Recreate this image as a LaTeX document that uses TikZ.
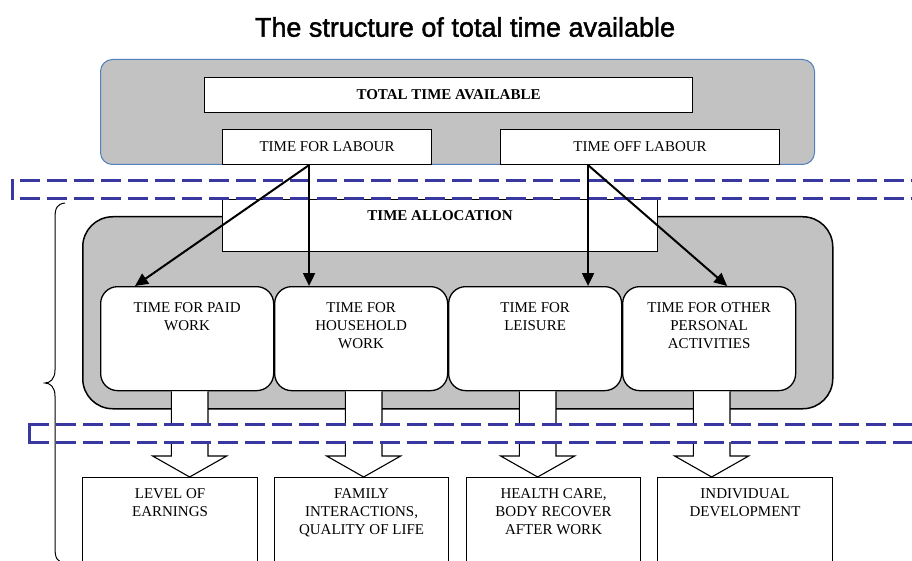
\documentclass[tikz,border=0pt]{standalone}
\usepackage{fontspec}
\setmainfont{Liberation Serif}
\newfontfamily\titlefont[FakeBold=1.6]{Liberation Sans}
\usetikzlibrary{arrows.meta,calc}
\definecolor{boxgray}{RGB}{194,194,194}
\definecolor{dashblue}{RGB}{56,56,160}
\definecolor{edgeblue}{RGB}{79,129,189}
\begin{document}
\begin{tikzpicture}[x=1pt,y=-1pt,
  txt/.style={font=\fontsize{15}{18}\selectfont, align=center, inner sep=0pt},
  boldtxt/.style={font=\fontsize{15}{18}\selectfont\bfseries, align=center, inner sep=0pt},
  sqbox/.style={draw=black, line width=1.1pt, fill=white, anchor=north west, inner sep=0pt},
  rbox/.style={sqbox, rounded corners=17pt, line width=1.3pt},
  topframe/.style={draw=edgeblue, line width=1pt, fill=boxgray, rounded corners=12pt, anchor=north west, inner sep=0pt},
  midframe/.style={draw=black, line width=1.5pt, fill=boxgray, rounded corners=30pt, anchor=north west, inner sep=0pt},
  flow/.style={draw=black, line width=2pt, -{Triangle[length=13pt,width=12pt]}},
  blockarr/.style={draw=black, fill=white, line width=1.1pt, line join=miter},
  dashline/.style={draw=dashblue, line width=3pt, dash pattern=on 20pt off 7pt},
  bandedge/.style={draw=dashblue, line width=3pt},
  bracestyle/.style={draw=black, line width=1pt}
]
\useasboundingbox (0,0) rectangle (912,561);
\clip (0,0) rectangle (912,561);

% lower frame
\node[midframe, minimum width=750pt, minimum height=192pt] (allocframe) at (82,216) {};
\node[sqbox, minimum width=435pt, minimum height=52pt] (alloc) at (222,199) {};
\node[boldtxt, anchor=north] (alloct) at ($(alloc.north)+(0,11.7)$) {TIME ALLOCATION};

% four activity boxes
\node[rbox, minimum width=173pt, minimum height=104pt] (p1) at (100,286) {};
\node[rbox, minimum width=173pt, minimum height=104pt] (p2) at (274,286) {};
\node[rbox, minimum width=173pt, minimum height=104pt] (p3) at (448,286) {};
\node[rbox, minimum width=173pt, minimum height=104pt] (p4) at (622,286) {};
\node[txt, anchor=north] (p1t) at ($(p1.north)+(0,16)$) {TIME FOR PAID\\WORK};
\node[txt, anchor=north] (p2t) at ($(p2.north)+(0,16)$) {TIME FOR\\HOUSEHOLD\\WORK};
\node[txt, anchor=north] (p3t) at ($(p3.north)+(0,16)$) {TIME FOR\\LEISURE};
\node[txt, anchor=north] (p4t) at ($(p4.north)+(0,16)$) {TIME FOR OTHER\\PERSONAL\\ACTIVITIES};

% result boxes
\node[sqbox, minimum width=175pt, minimum height=120pt] (r1) at (82,477) {};
\node[sqbox, minimum width=174pt, minimum height=120pt] (r2) at (274,477) {};
\node[sqbox, minimum width=174pt, minimum height=120pt] (r3) at (466,477) {};
\node[sqbox, minimum width=175pt, minimum height=120pt] (r4) at (657,477) {};
\node[txt, anchor=north] (r1t) at ($(r1.north)+(0,11)$) {LEVEL OF\\EARNINGS};
\node[txt, anchor=north] (r2t) at ($(r2.north)+(0,11)$) {FAMILY\\INTERACTIONS,\\QUALITY OF LIFE};
\node[txt, anchor=north] (r3t) at ($(r3.north)+(0,11)$) {HEALTH CARE,\\BODY RECOVER\\AFTER WORK};
\node[txt, anchor=north] (r4t) at ($(r4.north)+(0,11)$) {INDIVIDUAL\\DEVELOPMENT};

% block arrows from activity boxes to result boxes
\foreach \s/\t in {p1/r1,p2/r2,p3/r3,p4/r4}{
  \draw[blockarr] let \p1=($(\s.south)+(2.5,0)$), \p2=(\t.north) in
    (\x1-18.3pt,\y1) -- (\x1-18.3pt,\y2+21pt) -- (\x1-37pt,\y2+21pt)
    -- (\x1,\y2) -- (\x1+37pt,\y2+21pt) -- (\x1+18.3pt,\y2+21pt) -- (\x1+18.3pt,\y1);
}

% lower dashed band
\fill[white] (29,424) rectangle (930,442);
\draw[dashline] (29,424) -- (930,424);
\draw[dashline] (29,442) -- (930,442);
\draw[bandedge] (29,422.5) -- (29,443.5);

% top frame
\node[topframe, minimum width=714pt, minimum height=105pt] (topbox) at (100,59) {};
\node[sqbox, minimum width=488pt, minimum height=35pt, boldtxt] (total) at (204,77) {TOTAL TIME AVAILABLE};
\node[sqbox, minimum width=209pt, minimum height=35pt, txt] (labour) at (222,129) {TIME FOR LABOUR};
\node[sqbox, minimum width=279pt, minimum height=35pt, txt] (offlabour) at (500,129) {TIME OFF LABOUR};

% upper dashed band
\draw[dashline] (20,181) -- (930,181);
\draw[dashline] (20,199) -- (930,199);
\draw[bandedge] (12,179.5) -- (12,200.5);

% allocation arrows
\coordinate (labA) at ($(labour.south)+(-18,0)$);
\coordinate (offA) at ($(offlabour.south)+(-52,0)$);
\draw[flow] (labA) -- ($(p1.north west)+(35,0)$);
\draw[flow] (labA) -- (labA |- p2.north);
\draw[flow] (offA) -- (offA |- p3.north);
\draw[flow] (offA) -- ($(p4.north)+(18,0)$);

% brace
\draw[bracestyle] (65,203) .. controls (57,204) and (55,208) .. (55,218)
  -- (55,370) .. controls (55,379) and (50,383) .. (45,383)
  .. controls (50,383) and (55,387) .. (55,396)
  -- (55,548) .. controls (55,558) and (57,562) .. (65,563);

% title
\node[font=\titlefont\fontsize{27}{32}\selectfont, anchor=base, inner sep=0pt] (title) at (465,36.7) {The structure of total time available};
\end{tikzpicture}
\end{document}
